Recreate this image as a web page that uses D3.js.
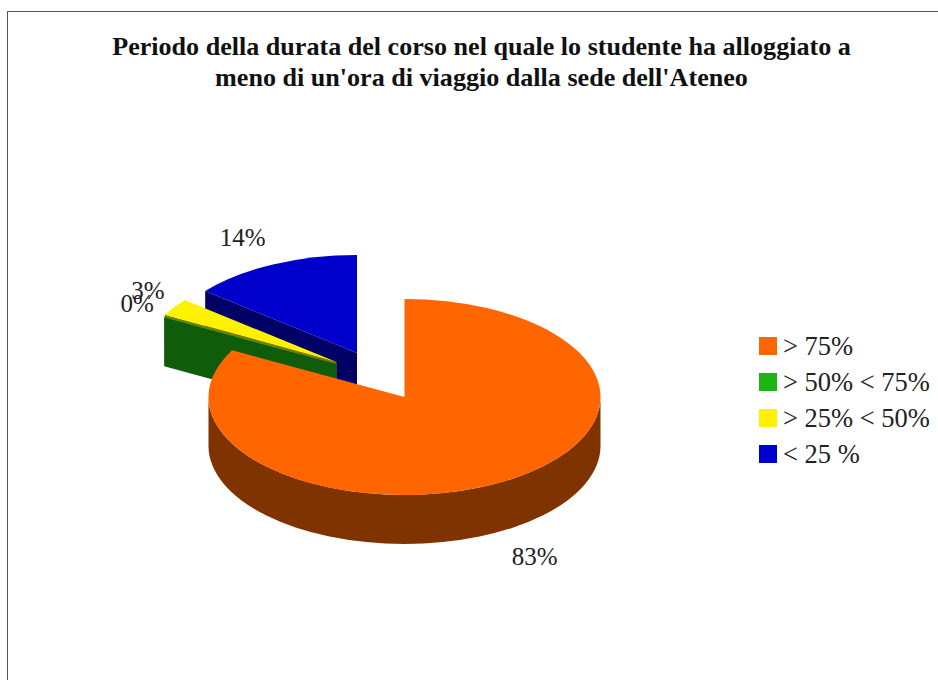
<!DOCTYPE html>
<html>
<head>
<meta charset="utf-8">
<script src="https://cdn.jsdelivr.net/npm/d3@7"></script>
<style>
  html, body { margin: 0; padding: 0; background: #fff; overflow: hidden; }
  text { font-family: "Liberation Serif", serif; fill: #222; }
</style>
</head>
<body>
<div id="chart"></div>
<script>
// data
const categories = ["> 75%", "> 50% < 75%", "> 25% < 50%", "< 25 %"];
const shares = [82.9, 0.1, 2.9, 14.1];
const titleLines = ["Periodo della durata del corso nel quale lo studente ha alloggiato a",
    "meno di un'ora di viaggio dalla sede dell'Ateneo"];

// styling, one entry per slice
const topColors = ["#ff6600", "#1db510", "#fff200", "#0000cc"];
const sideColors = ["#7f3300", "#0f5c0a", "#7f7800", "#000066"];
const explode = [[0, 0], [-68, -33], [-68, -35], [-47.5, -44]];
const labelShift = [-3, 29, 27, -3];

const width = 938, height = 680;
const cx = 404.5, cy = 397, rx = 196, squash = 0.5, depth = 49;
const labelRx = 260, labelRy = 128;

const svg = d3.select("#chart")
    .append("svg")
    .attr("width", width)
    .attr("height", height);

// frame runs off the right and bottom of the picture
svg.append("rect")
    .attr("x", 7.5)
    .attr("y", 11.5)
    .attr("width", 1000)
    .attr("height", 900)
    .attr("fill", "none")
    .attr("stroke", "#555");

// title
svg.selectAll(".title")
    .data(titleLines)
    .join("text")
    .attr("class", "title")
    .attr("x", 481.5)
    .attr("y", (d, i) => 55 + i * 30.5)
    .attr("text-anchor", "middle")
    .style("font-size", "26.1px")
    .style("font-weight", "bold")
    .style("fill", "#111")
    .text(d => d);

const pie = d3.pie().sort(null);
const slices = pie(shares).map((d, i) => ({...d, i}));
const arc = d3.arc().innerRadius(0).outerRadius(rx);

// everything is drawn as a circle and squashed into an ellipse
function sliceGroup(parent, d) {
    const [dx, dy] = explode[d.i];
    return parent.append("g")
        .attr("transform", `translate(${cx + dx}, ${cy + dy}) scale(1, ${squash})`);
}

function radialWall(g, angle, color) {
    const px = rx * Math.sin(angle), py = -rx * Math.cos(angle);
    const p = d3.path();
    p.moveTo(0, 0);
    p.lineTo(px, py);
    p.lineTo(px, py + depth / squash);
    p.lineTo(0, depth / squash);
    p.closePath();
    g.append("path").attr("d", p.toString()).attr("fill", color);
}

// back slices first, the big one goes on top
[3, 2, 1, 0].forEach(i => {
    const d = slices[i];
    const g = sliceGroup(svg, d);
    if (i === 0) {
        // rim along the front half
        const p = d3.path();
        p.arc(0, 0, rx, 0, Math.PI, false);
        p.lineTo(-rx, depth / squash);
        p.arc(0, depth / squash, rx, Math.PI, 0, true);
        p.closePath();
        g.append("path").attr("d", p.toString()).attr("fill", sideColors[i]);
    } else {
        radialWall(g, d.startAngle, sideColors[i]);
    }
    g.append("path")
        .attr("d", arc(d))
        .attr("fill", topColors[i]);
});

// percent labels
svg.selectAll(".label")
    .data(slices)
    .join("text")
    .attr("class", "label")
    .attr("text-anchor", "middle")
    .style("font-size", "25px")
    .attr("x", d => {
        const mid = (d.startAngle + d.endAngle) / 2;
        return cx + explode[d.i][0] + labelRx * Math.sin(mid) + labelShift[d.i];
    })
    .attr("y", d => {
        const mid = (d.startAngle + d.endAngle) / 2;
        const c = Math.cos(mid);
        return cy + explode[d.i][1] - labelRy * c + (c < 0 ? depth : 0) + 9;
    })
    .text(d => `${Math.round(d.data)}%`);

// legend
const legendY = d3.scalePoint()
    .domain(categories)
    .range([337, 445]);

const legend = svg.selectAll(".legend")
    .data(categories)
    .join("g")
    .attr("class", "legend")
    .attr("transform", d => `translate(759, ${legendY(d)})`);

legend.append("rect")
    .attr("width", 18)
    .attr("height", 18)
    .attr("fill", (d, i) => topColors[i]);

legend.append("text")
    .attr("x", 24)
    .attr("y", 18)
    .style("font-size", "26.5px")
    .text(d => d);
</script>
</body>
</html>
